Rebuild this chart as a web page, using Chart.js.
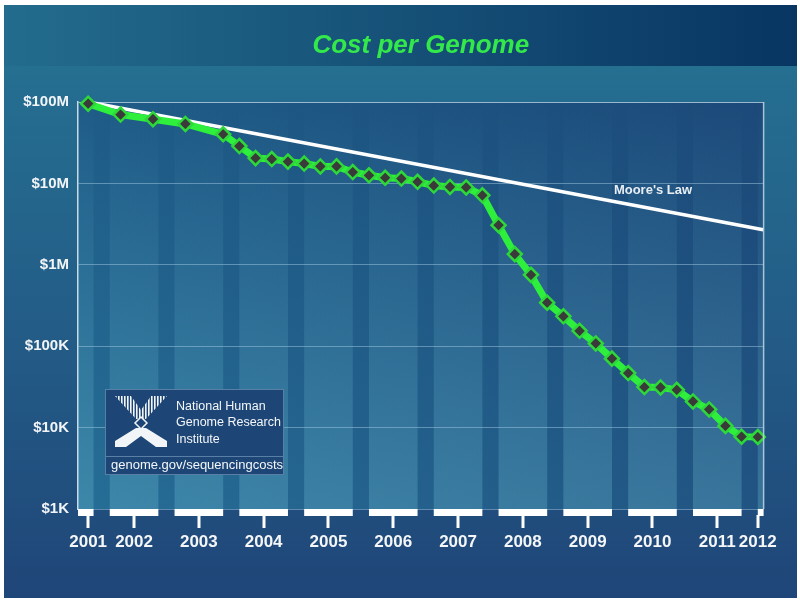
<!DOCTYPE html>
<html>
<head>
<meta charset="utf-8">
<script src="https://cdn.jsdelivr.net/npm/chart.js@4/dist/chart.umd.min.js"></script>
<style>
  html, body { margin: 0; padding: 0; background: #ffffff; }
  #wrap { width: 800px; height: 603px; position: relative; }
</style>
</head>
<body>
<div id="wrap"><canvas id="c" width="800" height="603"></canvas></div>
<script>
// ---------------- data ----------------
const dates = ['2001-09','2002-03','2002-09','2003-03','2003-10','2004-01','2004-04','2004-07','2004-10',
  '2005-01','2005-04','2005-07','2005-10','2006-01','2006-04','2006-07','2006-10','2007-01','2007-04',
  '2007-07','2007-10','2008-01','2008-04','2008-07','2008-10','2009-01','2009-04','2009-07','2009-10',
  '2010-01','2010-04','2010-07','2010-10','2011-01','2011-04','2011-07','2011-10','2012-01'];
const costPerGenome = [95263072, 70175437, 61448422, 53751684, 40157554, 28780376, 20442576, 19934346, 18519312,
  17534970, 16159699, 16180224, 13801124, 12585659, 11732535, 11455315, 10474556, 9408739, 9047003,
  8927342, 7147571, 3063820, 1352982, 752080, 342502, 232735, 154714, 108065, 70333,
  46774, 31512, 31125, 29092, 20963, 16712, 10497, 7743, 7666];
const mooreDates = ['2001-09', '2012-02'];
const mooreCost = [100000000, 2700000];
const yTickValues = [1000, 10000, 100000, 1000000, 10000000, 100000000];
const yTickLabels = ['$1K', '$10K', '$100K', '$1M', '$10M', '$100M'];
const yearLabels = ['2001','2002','2003','2004','2005','2006','2007','2008','2009','2010','2011','2012'];

// ---------------- helpers ----------------
function toYear(s) { const p = s.split('-').map(Number); return p[0] + (p[1] - 1) / 12; }
const genomePts = dates.map((d, i) => ({ x: toYear(d), y: costPerGenome[i] }));
const moorePts = mooreDates.map((d, i) => ({ x: toYear(d), y: mooreCost[i] }));
const firstX = toYear(dates[0]);
const lastX = toYear(dates[dates.length - 1]);
const yearTickPos = yearLabels.map((y, i) => {
  if (i === 0) return firstX;
  if (i === yearLabels.length - 1) return lastX;
  return Number(y) + 0.375;
});
const FONT = '"Liberation Sans", Arial, Helvetica, sans-serif';

// ---------------- background plugin ----------------
const backdrop = {
  id: 'backdrop',
  beforeDraw(chart) {
    const ctx = chart.ctx;
    const { left, right, top, bottom } = chart.chartArea;
    const xs = chart.scales.x;
    ctx.save();
    ctx.fillStyle = '#ffffff';
    ctx.fillRect(0, 0, chart.width, chart.height);
    // body
    let g = ctx.createLinearGradient(0, 66, 0, 598);
    g.addColorStop(0, '#256F91');
    g.addColorStop(0.5, '#235C87');
    g.addColorStop(1, '#1F4678');
    ctx.fillStyle = g;
    ctx.fillRect(4, 66, 793, 532);
    // title band
    g = ctx.createLinearGradient(4, 0, 797, 0);
    g.addColorStop(0, '#236C8D');
    g.addColorStop(1, '#083562');
    ctx.fillStyle = g;
    ctx.fillRect(4, 5, 793, 61);
    // plot area base
    g = ctx.createLinearGradient(0, top, 0, bottom);
    g.addColorStop(0, '#1E5C87');
    g.addColorStop(1, '#266E96');
    ctx.fillStyle = g;
    ctx.fillRect(left, top, right - left, bottom - top);
    g = ctx.createLinearGradient(left, 0, right, 0);
    g.addColorStop(0, 'rgba(25,45,100,0)');
    g.addColorStop(1, 'rgba(25,45,100,0.4)');
    ctx.fillStyle = g;
    ctx.fillRect(left, top, right - left, bottom - top);
    // lighter year columns (Jan-Sep)
    g = ctx.createLinearGradient(0, top, 0, bottom);
    g.addColorStop(0, 'rgba(120,200,220,0)');
    g.addColorStop(1, 'rgba(120,200,220,0.28)');
    ctx.fillStyle = g;
    for (let y = 2001; y <= 2012; y++) {
      const x0 = Math.max(left, xs.getPixelForValue(y));
      const x1 = Math.min(right, xs.getPixelForValue(y + 0.75));
      if (x1 > x0) ctx.fillRect(x0, top, x1 - x0, bottom - top);
    }
    ctx.restore();
  },
  afterDraw(chart) {
    const ctx = chart.ctx;
    const { left, right, top, bottom } = chart.chartArea;
    const xs = chart.scales.x;
    ctx.save();
    // right border
    ctx.strokeStyle = 'rgba(190,215,232,0.85)';
    ctx.lineWidth = 1.5;
    ctx.beginPath(); ctx.moveTo(right, top); ctx.lineTo(right, bottom); ctx.stroke();
    // white bars under plot
    ctx.fillStyle = '#ffffff';
    for (let y = 2001; y <= 2012; y++) {
      const x0 = Math.max(left, xs.getPixelForValue(y));
      const x1 = Math.min(right, xs.getPixelForValue(y + 0.75));
      if (x1 > x0) ctx.fillRect(x0, bottom, x1 - x0, 7);
    }
    // tick marks
    ctx.strokeStyle = '#ffffff';
    ctx.lineWidth = 3;
    yearTickPos.forEach(v => {
      const px = Math.round(xs.getPixelForValue(v));
      ctx.beginPath(); ctx.moveTo(px, bottom + 6); ctx.lineTo(px, bottom + 19); ctx.stroke();
    });
    // Moore's Law label
    ctx.fillStyle = '#E8EEF4';
    ctx.font = 'bold 13px ' + FONT;
    ctx.textAlign = 'center';
    ctx.textBaseline = 'middle';
    ctx.fillText("Moore's Law", 653, 190);

    // NHGRI box
    ctx.fillStyle = '#1D4676';
    ctx.fillRect(105, 389, 179, 86);
    ctx.strokeStyle = 'rgba(140,175,205,0.55)';
    ctx.lineWidth = 1;
    ctx.strokeRect(105.5, 389.5, 178, 85);
    ctx.beginPath(); ctx.moveTo(106, 456.5); ctx.lineTo(283, 456.5); ctx.stroke();
    // logo: upper striped arms
    ctx.save();
    ctx.beginPath();
    ctx.moveTo(115, 396); ctx.lineTo(131, 396); ctx.lineTo(141, 410); ctx.lineTo(151, 396);
    ctx.lineTo(167, 396); ctx.lineTo(146, 419); ctx.lineTo(136, 419); ctx.closePath();
    ctx.clip();
    ctx.fillStyle = '#F2F5F8';
    for (let x = 115; x < 168; x += 3) ctx.fillRect(x, 394, 1.6, 28);
    ctx.restore();
    // centre diamond
    ctx.beginPath();
    ctx.moveTo(141, 417); ctx.lineTo(147, 423); ctx.lineTo(141, 429); ctx.lineTo(135, 423); ctx.closePath();
    ctx.fillStyle = '#1D4676'; ctx.fill();
    ctx.strokeStyle = '#F2F5F8'; ctx.lineWidth = 1.5; ctx.stroke();
    // lower solid arms
    ctx.beginPath();
    ctx.moveTo(136, 428); ctx.lineTo(146, 428); ctx.lineTo(167, 441); ctx.lineTo(167, 447);
    ctx.lineTo(156, 447); ctx.lineTo(141, 436); ctx.lineTo(126, 447); ctx.lineTo(115, 447);
    ctx.lineTo(115, 441); ctx.closePath();
    ctx.fillStyle = '#F2F5F8'; ctx.fill();
    // texts
    ctx.fillStyle = '#F4F6F9';
    ctx.textAlign = 'left';
    ctx.textBaseline = 'middle';
    ctx.font = '12.5px ' + FONT;
    ctx.fillText('National Human', 176, 407);
    ctx.fillText('Genome Research', 176, 423);
    ctx.fillText('Institute', 176, 440);
    ctx.font = '13px ' + FONT;
    ctx.fillText('genome.gov/sequencingcosts', 111, 465);
    ctx.restore();
  }
};

// ---------------- chart ----------------
new Chart(document.getElementById('c'), {
  type: 'line',
  data: {
    datasets: [
      {
        label: 'Cost per Genome',
        data: genomePts,
        borderColor: '#2EF03C',
        borderWidth: 7,
        pointStyle: 'rectRot',
        pointRadius: 7,
        pointBackgroundColor: '#3A3A3A',
        pointBorderColor: '#2FD83A',
        pointBorderWidth: 2.5,
        tension: 0,
        clip: false
      },
      {
        label: "Moore's Law",
        data: moorePts,
        borderColor: '#FFFFFF',
        borderWidth: 3.5,
        pointRadius: 0,
        tension: 0,
        clip: false
      }
    ]
  },
  options: {
    responsive: false,
    animation: false,
    events: [],
    devicePixelRatio: 1,
    layout: { padding: { top: 5, left: 0, right: 34, bottom: 5 } },
    plugins: {
      legend: { display: false },
      tooltip: { enabled: false },
      title: {
        display: true,
        text: 'Cost per Genome',
        fullSize: false,
        color: '#33E84A',
        font: { family: FONT, size: 26, weight: 'bold', style: 'italic', lineHeight: 1.2 },
        padding: { top: 25, bottom: 40.8 }
      }
    },
    scales: {
      x: {
        type: 'linear',
        min: 2001.51,
        max: 2012.09,
        grid: { display: false, drawTicks: false },
        border: { display: false },
        afterFit(scale) { scale.height = 89; },
        afterBuildTicks(scale) { scale.ticks = yearTickPos.map(v => ({ value: v })); },
        ticks: {
          autoSkip: false,
          maxRotation: 0,
          padding: 23,
          color: '#F4F6F8',
          font: { family: FONT, size: 17, weight: 'bold' },
          callback: (v, i) => yearLabels[i]
        }
      },
      y: {
        type: 'logarithmic',
        min: 1000,
        max: 100000000,
        afterFit(scale) { scale.width = 78; },
        afterBuildTicks(scale) { scale.ticks = yTickValues.map(v => ({ value: v })); },
        grid: {
          drawTicks: false,
          lineWidth: 1,
          color: (c) => (c.tick && c.tick.value === 100000000) ? 'rgba(185,210,228,0.8)' : 'rgba(160,200,225,0.5)'
        },
        border: { display: true, color: '#C8DCE8', width: 1.5 },
        ticks: {
          padding: 9,
          color: '#F2F5F8',
          font: { family: FONT, size: 15, weight: 'bold' },
          callback: (v) => { const i = yTickValues.indexOf(v); return i >= 0 ? yTickLabels[i] : ''; }
        }
      }
    }
  },
  plugins: [backdrop]
});
</script>
</body>
</html>
